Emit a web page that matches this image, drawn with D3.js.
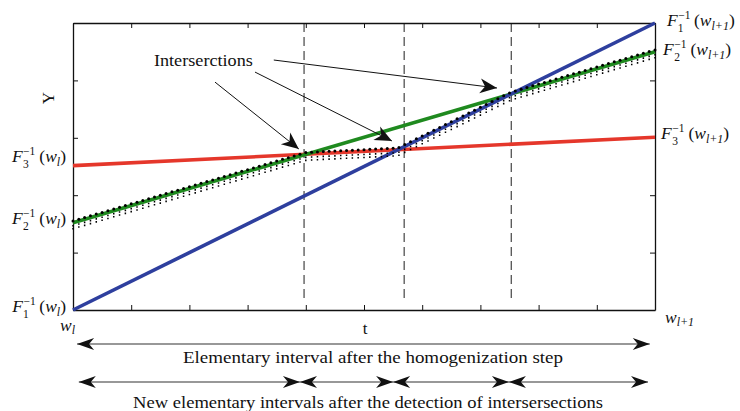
<!DOCTYPE html>
<html>
<head>
<meta charset="utf-8">
<script src="https://cdn.jsdelivr.net/npm/d3@7"></script>
<style>
  html, body { margin: 0; padding: 0; background: #fff; }
  svg { display: block; }
  text { font-family: "Liberation Serif", "DejaVu Serif", serif; fill: #111; }
</style>
</head>
<body>
<svg id="chart" width="740" height="411"></svg>
<script>
// Three quantile functions on one elementary interval [w_l, w_{l+1}]
const tDomain = [0, 1];
const quantileF1 = [0, 1];          // blue
const quantileF2 = [0.304, 0.900];  // green
const quantileF3 = [0.503, 0.602];  // red
const xTickValues = [0, 0.1, 0.2, 0.3, 0.4, 0.5, 0.6, 0.7, 0.8, 0.9, 1];
const yTickValues = [0, 0.2, 0.4, 0.6, 0.8, 1];
const crossingT = [0.397, 0.569, 0.753];
const sampleCount = 100;
const homogInterval = [0.007, 0.991];
const newIntervalBounds = [0.010, 0.390, 0.550, 0.749, 0.988];

const svg = d3.select("#chart");
const x = d3.scaleLinear().domain(tDomain).range([73, 655]);
const y = d3.scaleLinear().domain([0, 1]).range([310, 23]);

// arrowhead markers
const defs = svg.append("defs");
function headMarker(id, len, half, notch) {
  defs.append("marker")
    .attr("id", id)
    .attr("markerUnits", "userSpaceOnUse")
    .attr("viewBox", `${-len - 1} ${-half - 1} ${len + 2} ${2 * half + 2}`)
    .attr("markerWidth", len + 2).attr("markerHeight", 2 * half + 2)
    .attr("refX", 0).attr("refY", 0)
    .attr("orient", "auto-start-reverse")
    .append("path")
    .attr("d", `M0,0 L${-len},${-half} L${-len + notch},0 L${-len},${half} Z`)
    .attr("fill", "#111");
}
headMarker("headBig", 17, 7.5, 5);
headMarker("headInt", 17, 6, 5);

// dashed verticals at the crossings
svg.append("g").selectAll("line").data(crossingT).join("line")
  .attr("x1", d => x(d)).attr("x2", d => x(d))
  .attr("y1", y(1)).attr("y2", y(0.024))
  .attr("stroke", "#333").attr("stroke-width", 1.1)
  .attr("stroke-dasharray", "9,5");

// frame with inward ticks
const tick = 5;
svg.append("g").attr("transform", `translate(0,${y(0)})`)
  .call(d3.axisBottom(x).tickValues(xTickValues).tickSizeInner(-tick).tickSizeOuter(0).tickFormat(""));
svg.append("g").attr("transform", `translate(0,${y(1)})`)
  .call(d3.axisTop(x).tickValues(xTickValues).tickSizeInner(-tick).tickSizeOuter(0).tickFormat(""));
svg.append("g").attr("transform", `translate(${x(0)},0)`)
  .call(d3.axisLeft(y).tickValues(yTickValues).tickSizeInner(-tick).tickSizeOuter(0).tickFormat(""));
svg.append("g").attr("transform", `translate(${x(1)},0)`)
  .call(d3.axisRight(y).tickValues(yTickValues).tickSizeInner(-tick).tickSizeOuter(0).tickFormat(""));
svg.selectAll(".domain").attr("stroke", "#111").attr("stroke-width", 1.3);
svg.selectAll(".tick line").attr("stroke", "#111").attr("stroke-width", 1);

// quantile lines
const series = [
  { v: quantileF3, c: "#e5372b" },
  { v: quantileF2, c: "#1f8a1f" },
  { v: quantileF1, c: "#2e3f9e" }
];
const line = d3.line().x(d => x(d[0])).y(d => y(d[1]));
svg.append("g").selectAll("path").data(series).join("path")
  .attr("d", s => line(tDomain.map((t, i) => [t, s.v[i]])))
  .attr("fill", "none").attr("stroke", s => s.c).attr("stroke-width", 3.6);

// sampled median of the three quantiles
const lerp = (v, t) => v[0] + (v[1] - v[0]) * t;
const samples = d3.range(sampleCount + 1).map(i => {
  const t = i / sampleCount;
  return [t, d3.median([lerp(quantileF1, t), lerp(quantileF2, t), lerp(quantileF3, t)])];
});
const dots = svg.append("g");
dots.selectAll("circle").data(samples).join("circle")
  .attr("cx", d => x(d[0])).attr("cy", d => y(d[1]) - 1.8)
  .attr("r", 1.5).attr("fill", "#000");
dots.selectAll("line").data(samples).join("line")
  .attr("x1", d => x(d[0])).attr("x2", d => x(d[0]))
  .attr("y1", d => y(d[1]) + 2.2).attr("y2", d => y(d[1]) + 8)
  .attr("stroke", "#000").attr("stroke-width", 1.5)
  .attr("stroke-dasharray", "1.6,1.4");

// "Intersections" callout
const callout = {
  text: [0.139, 0.850],
  from: [[0.244, 0.794], [0.3127, 0.829], [0.345, 0.871]],
  to: [[0.388, 0.561], [0.548, 0.589], [0.7285, 0.7735]]
};
svg.append("text").attr("x", x(callout.text[0])).attr("y", y(callout.text[1]))
  .attr("font-size", 17.5).attr("textLength", 99).attr("lengthAdjust", "spacingAndGlyphs")
  .text("Interserctions");
svg.append("g").selectAll("line").data(callout.from).join("line")
  .attr("x1", d => x(d[0])).attr("y1", d => y(d[1]))
  .attr("x2", (d, i) => x(callout.to[i][0])).attr("y2", (d, i) => y(callout.to[i][1]))
  .attr("stroke", "#111").attr("stroke-width", 1)
  .attr("marker-end", "url(#headBig)");

// axis labels
svg.append("text").attr("transform", "translate(54,98) rotate(-90)")
  .attr("text-anchor", "middle").attr("font-size", 17).text("Y");
svg.append("text").attr("x", 365).attr("y", 334)
  .attr("text-anchor", "middle").attr("font-size", 17).text("t");

function wLabel(px, py, sub, anchor) {
  const t = svg.append("text").attr("x", px).attr("y", py)
    .attr("text-anchor", anchor).attr("font-size", 17.5);
  t.append("tspan").attr("font-style", "italic").text("w");
  t.append("tspan").attr("font-style", "italic").attr("font-size", 12).attr("dy", 3).text(sub);
}
wLabel(60, 331, "l", "start");
wLabel(665, 323, "l+1", "start");

// F_k^{-1}(w) labels
function fLabel(px, py, idx, sub, anchor) {
  const t = svg.append("text").attr("x", px).attr("y", py)
    .attr("text-anchor", anchor).attr("font-size", 17.5);
  t.append("tspan").attr("font-style", "italic").text("F");
  t.append("tspan").attr("font-size", 11.5).attr("dy", -7.5).attr("dx", 0.5).text("\u22121");
  t.append("tspan").attr("font-size", 11.5).attr("dy", 13.5).attr("dx", -12.3).text(idx);
  t.append("tspan").attr("dy", -6).attr("dx", 10.5).text("(");
  t.append("tspan").attr("font-style", "italic").text("w");
  t.append("tspan").attr("font-style", "italic").attr("font-size", 12).attr("dy", 3.5).text(sub);
  t.append("tspan").attr("dy", -3.5).text(")");
}
fLabel(66, 162, "3", "l", "end");
fLabel(66, 224, "2", "l", "end");
fLabel(66, 312, "1", "l", "end");
fLabel(667, 26, "1", "l+1", "start");
fLabel(663, 55, "2", "l+1", "start");
fLabel(661, 139, "3", "l+1", "start");

// interval arrows below the axis
svg.append("line")
  .attr("x1", x(homogInterval[0])).attr("x2", x(homogInterval[1]))
  .attr("y1", 344).attr("y2", 344)
  .attr("stroke", "#333").attr("stroke-width", 1.2)
  .attr("marker-start", "url(#headInt)").attr("marker-end", "url(#headInt)");
svg.append("text").attr("x", 373).attr("y", 363).attr("text-anchor", "middle")
  .attr("font-size", 17).attr("textLength", 380).attr("lengthAdjust", "spacingAndGlyphs")
  .text("Elementary interval after the homogenization step");

const segs = d3.pairs(newIntervalBounds);
svg.append("g").selectAll("line").data(segs).join("line")
  .attr("x1", d => x(d[0])).attr("x2", d => x(d[1]))
  .attr("y1", 382).attr("y2", 382)
  .attr("stroke", "#333").attr("stroke-width", 1.2)
  .attr("marker-start", "url(#headInt)").attr("marker-end", "url(#headInt)");
svg.append("text").attr("x", 368).attr("y", 408).attr("text-anchor", "middle")
  .attr("font-size", 17).attr("textLength", 470).attr("lengthAdjust", "spacingAndGlyphs")
  .text("New elementary intervals after the detection of intersersections");
</script>
</body>
</html>
